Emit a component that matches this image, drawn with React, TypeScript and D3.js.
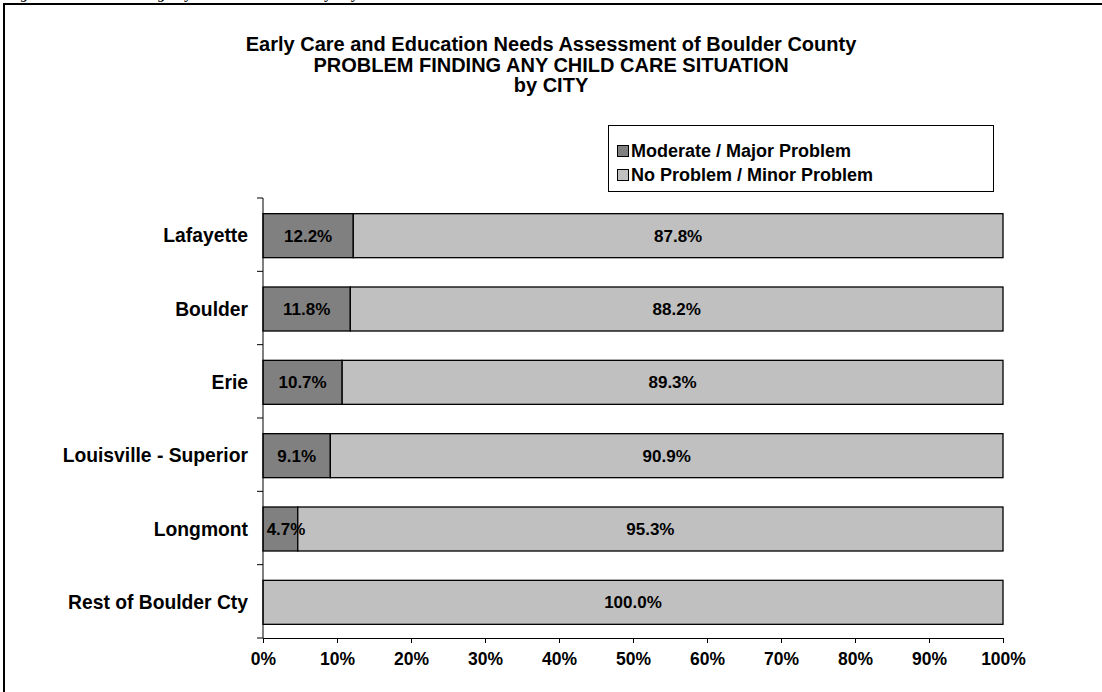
import React, { useEffect, useRef } from "react";
import * as d3 from "d3";

const cities = ["Lafayette", "Boulder", "Erie", "Louisville - Superior", "Longmont", "Rest of Boulder Cty"];
const moderateMajor = [12.2, 11.8, 10.7, 9.1, 4.7, 0];
const noMinor = [87.8, 88.2, 89.3, 90.9, 95.3, 100.0];
const seriesNames = ["Moderate / Major Problem", "No Problem / Minor Problem"];
const seriesColors = ["#808080", "#c0c0c0"];
const xTicks = [0, 10, 20, 30, 40, 50, 60, 70, 80, 90, 100];
const titleLines = [
  "Early Care and Education Needs Assessment of Boulder County",
  "PROBLEM FINDING ANY CHILD CARE SITUATION",
  "by CITY",
];
const caption = "Figure 9: Problem Finding Any Child Care Situation by City";

const W = 1102, H = 692;
const FONT = "'Liberation Sans', Arial, sans-serif";

export default function App() {
  const ref = useRef<SVGSVGElement>(null);

  useEffect(() => {
    const svg = d3.select(ref.current);
    svg.selectAll("*").remove();

    // page frame + caption of the page, mostly above the visible area
    svg.append("text")
      .attr("x", 8).attr("y", -1)
      .attr("font-family", "'Liberation Serif', 'Times New Roman', serif")
      .attr("font-style", "italic").attr("font-weight", "bold")
      .attr("font-size", 14)
      .text(caption);
    svg.append("path")
      .attr("d", `M4,${H + 5}V4H${W + 5}`)
      .attr("fill", "none").attr("stroke", "#000").attr("stroke-width", 2);

    // title
    svg.append("g").selectAll("text").data(titleLines).join("text")
      .attr("x", 551).attr("y", (d, i) => 51 + i * 20.5)
      .attr("text-anchor", "middle")
      .attr("font-family", FONT).attr("font-weight", "bold").attr("font-size", 20)
      .text(d => d);

    const margin = { left: 263, right: 99, top: 198, bottom: 54 };
    const x = d3.scaleLinear().domain([0, 100]).range([margin.left, W - margin.right]);
    const y = d3.scaleBand().domain(cities).range([margin.top, H - margin.bottom]).paddingInner(0.4).paddingOuter(0.2);

    const rows = cities.map((c, i) => ({ city: c, a: moderateMajor[i], b: noMinor[i] }));
    const stacked = d3.stack<any>().keys(["a", "b"])(rows);

    const g = svg.append("g");
    stacked.forEach((layer, k) => {
      g.append("g").selectAll("rect").data(layer.filter(d => d[1] - d[0] > 0)).join("rect")
        .attr("x", d => x(d[0]))
        .attr("y", d => y(d.data.city)! + 1)
        .attr("width", d => x(d[1]) - x(d[0]))
        .attr("height", y.bandwidth())
        .attr("fill", seriesColors[k])
        .attr("stroke", "#000").attr("stroke-width", 1.3);
    });
    stacked.forEach((layer) => {
      g.append("g").selectAll("text").data(layer.filter(d => d[1] - d[0] > 0)).join("text")
        .attr("x", d => Math.max((x(d[0]) + x(d[1])) / 2, x(d[0]) + 23))
        .attr("y", d => y(d.data.city)! + 1 + y.bandwidth() / 2)
        .attr("dy", "0.35em")
        .attr("text-anchor", "middle")
        .attr("font-family", FONT).attr("font-weight", "bold").attr("font-size", 17)
        .text(d => (d[1] - d[0]).toFixed(1) + "%");
    });

    // y axis, ticks on band boundaries
    const yAxis = svg.append("g").attr("font-family", FONT);
    yAxis.append("line")
      .attr("x1", x(0)).attr("x2", x(0))
      .attr("y1", margin.top).attr("y2", H - margin.bottom)
      .attr("stroke", "#000").attr("stroke-width", 1);
    const step = y.step();
    d3.range(cities.length + 1).forEach(i => {
      const yy = margin.top + i * step;
      yAxis.append("line")
        .attr("x1", x(0) - 6).attr("x2", x(0))
        .attr("y1", yy).attr("y2", yy)
        .attr("stroke", "#000");
    });
    yAxis.selectAll("text.cat").data(cities).join("text")
      .attr("class", "cat")
      .attr("x", x(0) - 15)
      .attr("y", d => y(d)! + 1 + y.bandwidth() / 2)
      .attr("dy", "0.35em")
      .attr("text-anchor", "end")
      .attr("font-weight", "bold").attr("font-size", 19.3)
      .text(d => d);

    // x axis
    const xAxis = svg.append("g")
      .attr("transform", `translate(0,${H - margin.bottom})`)
      .call(d3.axisBottom(x).tickValues(xTicks).tickFormat(d => d + "%").tickSize(5).tickSizeOuter(0).tickPadding(10));
    xAxis.select(".domain").attr("stroke", "#000");
    xAxis.selectAll("text")
      .attr("font-family", FONT).attr("font-weight", "bold").attr("font-size", 17.5).attr("fill", "#000");

    // legend
    const lg = svg.append("g");
    lg.append("rect").attr("x", 608.5).attr("y", 125.5).attr("width", 385).attr("height", 66)
      .attr("fill", "#fff").attr("stroke", "#000").attr("stroke-width", 1);
    seriesNames.forEach((n, i) => {
      const yy = 151 + i * 24;
      lg.append("rect").attr("x", 617.5).attr("y", yy - 5.5).attr("width", 11).attr("height", 11)
        .attr("fill", seriesColors[i]).attr("stroke", "#000");
      lg.append("text").attr("x", 631).attr("y", yy).attr("dy", "0.36em")
        .attr("font-family", FONT).attr("font-weight", "bold").attr("font-size", 18)
        .text(n);
    });
  }, []);

  return (
    <svg ref={ref} width={W} height={H} style={{ position: "absolute", left: 0, top: 0, background: "#fff" }} />
  );
}
